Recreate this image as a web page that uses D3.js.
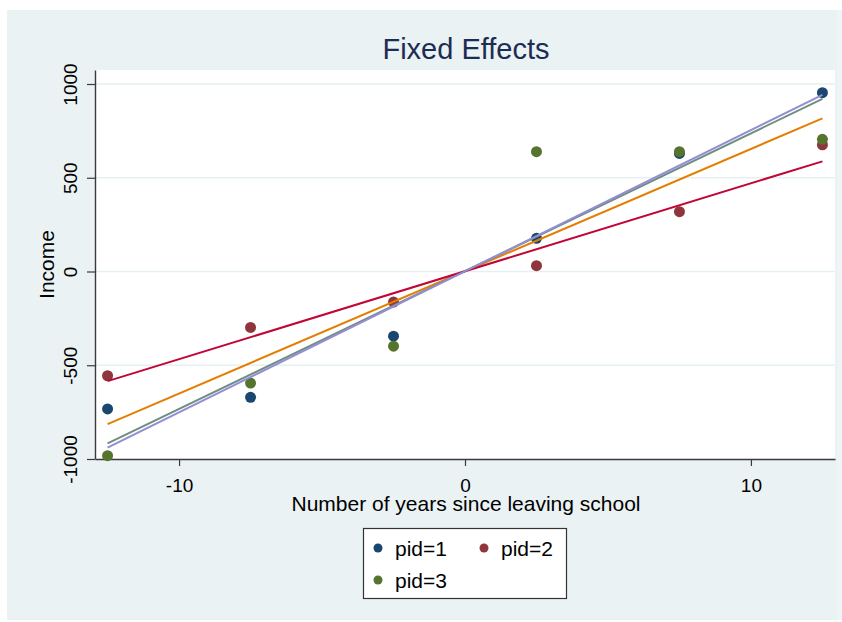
<!DOCTYPE html>
<html>
<head>
<meta charset="utf-8">
<script src="https://cdn.jsdelivr.net/npm/d3@7"></script>
<style>
  html, body { margin: 0; padding: 0; background: #ffffff; }
  svg { display: block; font-family: "Liberation Sans", Arial, sans-serif; }
</style>
</head>
<body>
<svg id="chart" width="842" height="622"></svg>
<script>
// Years since leaving school (shared by every person)
const years = [-12.5, -7.5, -2.5, 2.5, 7.5, 12.5];
// Within-person (demeaned) income for each pid
const pidLabels = ["pid=1", "pid=2", "pid=3"];
const income1 = [-733, -671, -345, 177, 630, 954];
const income2 = [-556, -298, -163, 31, 319, 676];
const income3 = [-982, -595, -398, 639, 639, 705];
const xTicks = [-10, 0, 10];
const yTicks = [-1000, -500, 0, 500, 1000];

const pointColors = ["#1a476f", "#90353b", "#55752f"];
const pooledColor = "#e37e00";
const fitColors = ["#6e8e84", "#c10534", "#938dd2"];

const svg = d3.select("#chart");

// graph region and plot region
const outer = { x: 7, y: 10, w: 835, h: 610 };
const plot = { left: 95, right: 835, top: 70, bottom: 459 };

svg.append("rect").attr("x", outer.x).attr("y", outer.y)
  .attr("width", outer.w).attr("height", outer.h).attr("fill", "#eaf2f3");
svg.append("rect").attr("x", 837).attr("y", outer.y)
  .attr("width", 5).attr("height", outer.h).attr("fill", "#eff5f6");
svg.append("rect").attr("x", plot.left).attr("y", plot.top)
  .attr("width", plot.right - plot.left).attr("height", plot.bottom - plot.top)
  .attr("fill", "#ffffff");

const x = d3.scaleLinear().domain([-12.94, 12.94]).range([plot.left, plot.right]);
const y = d3.scaleLinear().domain([-1000, 1074.7]).range([plot.bottom, plot.top]);

// horizontal grid lines
svg.append("g").selectAll("line")
  .data(yTicks.filter(t => t > -1000))
  .join("line")
  .attr("x1", plot.left).attr("x2", plot.right)
  .attr("y1", d => y(d)).attr("y2", d => y(d))
  .attr("stroke", "#e6eff1").attr("stroke-width", 1.6);

// x axis
const xAxis = svg.append("g").attr("transform", `translate(0,${plot.bottom})`)
  .call(d3.axisBottom(x).tickValues(xTicks).tickSize(7).tickSizeOuter(0).tickPadding(12.5));
xAxis.select(".domain").attr("stroke", "#3a3a3a").attr("stroke-width", 1.4);
xAxis.selectAll(".tick line").attr("stroke", "#3a3a3a").attr("stroke-width", 1.2);
xAxis.selectAll(".tick text").attr("font-size", 19).attr("fill", "#000")
  .attr("font-family", "Liberation Sans, Arial, sans-serif")
  .text(d => String(d));

// y axis
const yAxis = svg.append("g").attr("transform", `translate(${plot.left},0)`)
  .call(d3.axisLeft(y).tickValues(yTicks).tickSize(8).tickSizeOuter(0));
yAxis.select(".domain").attr("stroke", "#3a3a3a").attr("stroke-width", 1.4);
yAxis.selectAll(".tick line").attr("stroke", "#3a3a3a").attr("stroke-width", 1.2);
yAxis.selectAll(".tick text").remove();
yAxis.selectAll(".tick").append("text")
  .attr("transform", "translate(-18,0) rotate(-90)")
  .attr("text-anchor", "middle")
  .attr("font-size", 19).attr("fill", "#000")
  .attr("font-family", "Liberation Sans, Arial, sans-serif")
  .text(d => String(d));

// titles
svg.append("text").attr("x", 466).attr("y", 59).attr("text-anchor", "middle")
  .attr("font-size", 29).attr("fill", "#1c2d54").text("Fixed Effects");
svg.append("text").attr("x", 466).attr("y", 511).attr("text-anchor", "middle")
  .attr("font-size", 21).attr("fill", "#000").text("Number of years since leaving school");
svg.append("text").attr("transform", `translate(53.5,${(plot.top + plot.bottom) / 2}) rotate(-90)`)
  .attr("text-anchor", "middle").attr("font-size", 21).attr("fill", "#000").text("Income");

// points
const groups = [income1, income2, income3];
groups.forEach((vals, i) => {
  svg.append("g").selectAll("circle")
    .data(years.map((yr, j) => ({ yr, v: vals[j] })))
    .join("circle")
    .attr("cx", d => x(d.yr)).attr("cy", d => y(d.v)).attr("r", 5.5)
    .attr("fill", pointColors[i]);
});

// least-squares fit over the range of years
function linfit(xs, ys) {
  const mx = d3.mean(xs), my = d3.mean(ys);
  const b = d3.sum(xs, (xv, k) => (xv - mx) * (ys[k] - my)) / d3.sum(xs, xv => (xv - mx) ** 2);
  return { a: my - b * mx, b };
}
const xr = d3.extent(years);
function drawFit(fit, color) {
  svg.append("line")
    .attr("x1", x(xr[0])).attr("y1", y(fit.a + fit.b * xr[0]))
    .attr("x2", x(xr[1])).attr("y2", y(fit.a + fit.b * xr[1]))
    .attr("stroke", color).attr("stroke-width", 2);
}
const allX = [].concat(years, years, years);
const allY = [].concat(income1, income2, income3);
drawFit(linfit(allX, allY), pooledColor);
groups.forEach((vals, i) => drawFit(linfit(years, vals), fitColors[i]));

// legend
const lg = svg.append("g");
lg.append("rect").attr("x", 363.5).attr("y", 528.5).attr("width", 203).attr("height", 70)
  .attr("fill", "#ffffff").attr("stroke", "#333").attr("stroke-width", 1.2);
const legendPos = [[378, 548], [484, 548], [378, 580]];
pidLabels.forEach((lab, i) => {
  const [lx, ly] = legendPos[i];
  lg.append("circle").attr("cx", lx).attr("cy", ly).attr("r", 4.5).attr("fill", pointColors[i]);
  lg.append("text").attr("x", lx + 17).attr("y", ly + 7.5)
    .attr("font-size", 21).attr("fill", "#000").text(lab);
});
</script>
</body>
</html>
